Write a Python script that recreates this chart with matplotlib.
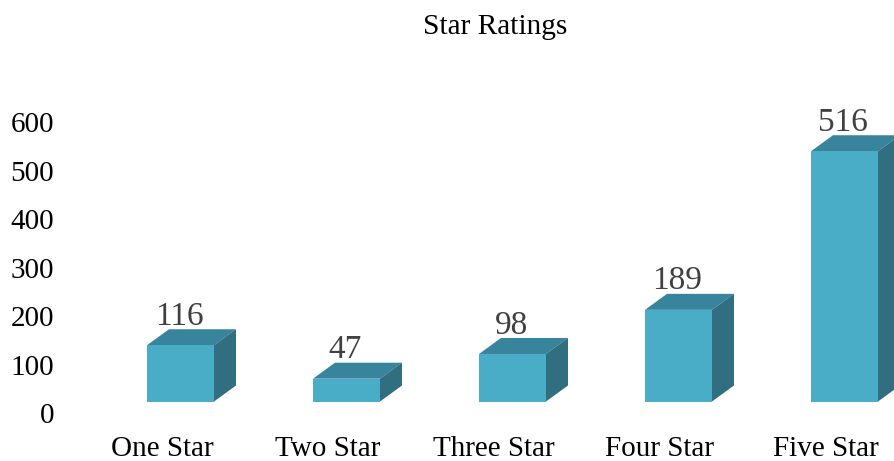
import matplotlib
matplotlib.use('Agg')
import matplotlib.pyplot as plt
from matplotlib.patches import Polygon
from matplotlib.transforms import ScaledTranslation

categories = ['One Star', 'Two Star', 'Three Star', 'Four Star', 'Five Star']
values = [116, 47, 98, 189, 516]
y_ticks = [0, 100, 200, 300, 400, 500, 600]

plt.rcParams['font.family'] = ['Liberation Serif', 'DejaVu Serif']

W, H = 895, 461
fig = plt.figure(figsize=(W / 100, H / 100), dpi=100)

# axes box in pixels, y=0 sits at pixel row 413, 600 at row 122
left, right, bottom, top = 62, 895, 428, 60
ax = fig.add_axes([left / W, 1 - bottom / H, (right - left) / W, (bottom - top) / H])
per_cat = 166
per_unit = (413 - 122) / 600
ax.set_xlim((left - 162) / per_cat, (right - 162) / per_cat)
ax.set_ylim((413 - bottom) / per_unit, (413 - top) / per_unit)

# bars sit on the raised 3d floor, shifted off the tick positions
floor = ax.transData + ScaledTranslation(18.5 / 100, 11.5 / 100, fig.dpi_scale_trans)

bar_w = 67 / per_cat
dx = 22 / per_cat
dy = 16 / per_unit

for i, v in enumerate(values):
    l = i - bar_w / 2
    r = i + bar_w / 2
    ax.bar(i, v, bar_w, color='#4AADC8', linewidth=0, transform=floor, clip_on=False, zorder=3)
    ax.add_patch(Polygon([(l, v), (r, v), (r + dx, v + dy), (l + dx, v + dy)], closed=True,
                         facecolor='#38849C', linewidth=0, transform=floor, clip_on=False, zorder=2))
    ax.add_patch(Polygon([(r, 0), (r + dx, dy), (r + dx, v + dy), (r, v)], closed=True,
                         facecolor='#306E80', linewidth=0, transform=floor, clip_on=False, zorder=2))
    ax.text(i - 0.008, v + dy + 9, str(v), ha='center', va='baseline', fontsize=24, color='#404040',
            transform=floor, clip_on=False, zorder=4)

ax.set_xticks(range(len(categories)))
ax.set_xticklabels(categories)
ax.set_yticks(y_ticks)
ax.tick_params(axis='both', length=0, labelsize=21, colors='black')
ax.tick_params(axis='y', pad=5.8)
ax.tick_params(axis='x', pad=5.6)
for s in ax.spines.values():
    s.set_visible(False)
ax.patch.set_visible(False)

fig.text(495 / W, 1 - 27 / H, 'Star Ratings', ha='center', va='center', fontsize=21.2, color='black')

fig.savefig('out.png', dpi=100)
